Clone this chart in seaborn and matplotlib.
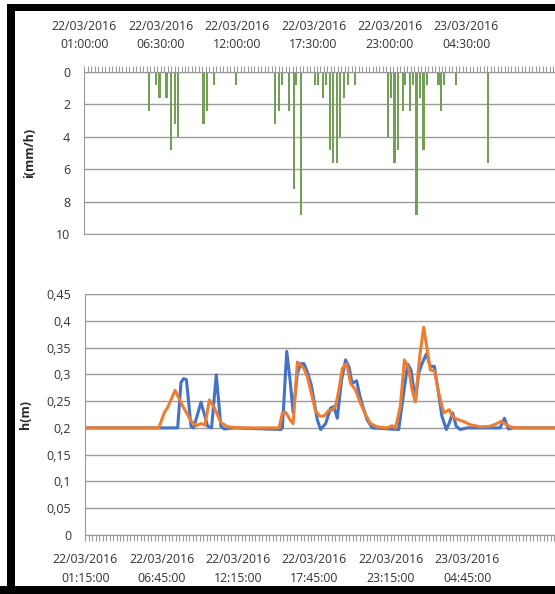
import numpy as np
import pandas as pd
import seaborn as sns
import matplotlib.pyplot as plt
from matplotlib.patches import Rectangle
from matplotlib.ticker import MultipleLocator

sns.set_style('white')
plt.rcParams['font.family'] = ['Open Sans', 'DejaVu Sans']

# rain intensity, i(mm/h), time as "day/month hh:mm"
rain_time = ['22/03 05:40', '22/03 06:10', '22/03 06:25', '22/03 06:55', '22/03 07:15',
             '22/03 07:30', '22/03 07:45', '22/03 09:35', '22/03 09:50', '22/03 10:20',
             '22/03 11:55', '22/03 14:45', '22/03 15:00', '22/03 15:15', '22/03 15:45',
             '22/03 16:05', '22/03 16:15', '22/03 16:35', '22/03 17:35', '22/03 17:50',
             '22/03 18:10', '22/03 18:25', '22/03 18:40', '22/03 18:55', '22/03 19:10',
             '22/03 19:25', '22/03 19:40', '22/03 20:00', '22/03 20:30', '22/03 22:50',
             '22/03 23:05', '22/03 23:20', '22/03 23:35', '22/03 23:55', '23/03 00:05',
             '23/03 00:25', '23/03 00:40', '23/03 00:55', '23/03 01:10', '23/03 01:25',
             '23/03 01:40', '23/03 02:30', '23/03 02:40', '23/03 02:55', '23/03 03:45',
             '23/03 06:05']
rain_int = [2.4, 0.8, 1.6, 1.6, 4.8, 3.2, 4.0, 3.2, 2.4, 0.8,
            0.8, 3.2, 2.4, 0.8, 2.4, 7.2, 0.8, 8.8, 0.8, 0.8,
            1.6, 0.8, 4.8, 5.6, 5.6, 4.0, 1.6, 0.8, 0.8, 4.0,
            1.6, 5.6, 4.8, 2.4, 0.8, 2.4, 0.8, 8.8, 1.6, 4.8,
            0.8, 0.8, 2.4, 0.8, 0.8, 5.6]

# water level h(m), time in hours from 22/03/2016 00:00
blue_t = [1.23, 7.90, 8.14, 8.33, 8.53, 8.86, 9.05, 9.58, 10.06, 10.34, 10.68, 11.01, 11.25, 11.97,
          15.32, 15.44, 15.75, 15.99, 16.21, 16.52, 16.76, 16.99, 17.23, 17.52, 17.71, 17.95, 18.19,
          18.55, 18.91, 19.15, 19.39, 19.70, 19.99, 20.23, 20.46, 20.78, 21.02, 21.30, 21.54, 21.90,
          23.81, 24.17, 24.46, 24.70, 25.01, 25.25, 25.49, 25.80, 26.09, 26.38, 26.64, 26.92, 27.24,
          27.45, 27.69, 27.95, 28.24, 28.72, 31.11, 31.42, 31.71, 32.07, 35.06]
blue_h = [0.2, 0.2, 0.285, 0.292, 0.29, 0.203, 0.2, 0.248, 0.203, 0.2, 0.299, 0.203, 0.198, 0.2,
          0.197, 0.2, 0.343, 0.29, 0.229, 0.302, 0.32, 0.32, 0.305, 0.28, 0.252, 0.215, 0.197,
          0.208, 0.237, 0.24, 0.218, 0.29, 0.327, 0.314, 0.283, 0.288, 0.259, 0.234, 0.215, 0.2,
          0.197, 0.265, 0.319, 0.308, 0.249, 0.302, 0.32, 0.338, 0.315, 0.315, 0.271, 0.222, 0.197,
          0.209, 0.228, 0.203, 0.197, 0.2, 0.2, 0.218, 0.198, 0.2, 0.2]

orange_t = [1.23, 6.54, 6.95, 7.18, 7.71, 8.26, 8.86, 9.22, 9.58, 9.86, 10.18, 10.53, 11.01, 11.49,
            12.45, 15.20, 15.44, 15.68, 15.99, 16.21, 16.52, 16.76, 16.99, 17.23, 17.52, 17.83,
            18.14, 18.43, 18.79, 19.03, 19.27, 19.51, 19.75, 20.06, 20.35, 20.70, 21.06, 21.42,
            21.78, 22.26, 22.98, 23.34, 23.58, 23.93, 24.22, 24.53, 24.77, 25.01, 25.32, 25.61,
            25.85, 26.09, 26.38, 26.69, 27.05, 27.45, 27.71, 28.12, 28.48, 28.96, 29.68, 30.40,
            30.87, 31.16, 31.47, 31.83, 32.31, 35.06]
orange_h = [0.2, 0.2, 0.229, 0.238, 0.270, 0.241, 0.213, 0.204, 0.208, 0.205, 0.252, 0.238, 0.210, 0.202,
            0.2, 0.2, 0.228, 0.229, 0.215, 0.208, 0.323, 0.317, 0.311, 0.296, 0.265, 0.231,
            0.222, 0.222, 0.233, 0.233, 0.241, 0.271, 0.311, 0.32, 0.283, 0.271, 0.246, 0.225,
            0.208, 0.202, 0.2, 0.204, 0.2, 0.24, 0.327, 0.311, 0.271, 0.249, 0.333, 0.388,
            0.348, 0.308, 0.307, 0.265, 0.228, 0.234, 0.22, 0.215, 0.212, 0.206, 0.202, 0.203,
            0.208, 0.212, 0.208, 0.202, 0.2, 0.2]

top_ticks = [1.0, 6.5, 12.0, 17.5, 23.0, 28.5]
top_labels = ['22/03/2016\n01:00:00', '22/03/2016\n06:30:00', '22/03/2016\n12:00:00',
              '22/03/2016\n17:30:00', '22/03/2016\n23:00:00', '23/03/2016\n04:30:00']
bot_ticks = [1.25, 6.75, 12.25, 17.75, 23.25, 28.75]
bot_labels = ['22/03/2016\n01:15:00', '22/03/2016\n06:45:00', '22/03/2016\n12:15:00',
              '22/03/2016\n17:45:00', '22/03/2016\n23:15:00', '23/03/2016\n04:45:00']
h_ticks = [0, 0.05, 0.1, 0.15, 0.2, 0.25, 0.3, 0.35, 0.4, 0.45]
h_labels = ['0', '0,05', '0,1', '0,15', '0,2', '0,25', '0,3', '0,35', '0,4', '0,45']


def to_hours(s):
    day, hm = s.split(' ')
    d = int(day.split('/')[0]) - 22
    hh, mm = hm.split(':')
    return d * 24 + int(hh) + int(mm) / 60


rain = pd.DataFrame({'t': [to_hours(s) for s in rain_time], 'i': rain_int})

GRID = '#9a9a9a'
TXT = '#333333'
W, H = 555, 594
fig = plt.figure(figsize=(W / 100, H / 100), dpi=100)

# top panel: rainfall
ax1 = fig.add_axes([84 / W, 1 - 234 / H, (W - 84) / W, 162 / H])
sns.barplot(data=rain, x='t', y='i', native_scale=True, width=0.9, color='#70AD47',
            errorbar=None, linewidth=0, ax=ax1)
ax1.set_xlim(0.98, 1 + (555 - 83) / 13.93)
ax1.set_ylim(10, 0)
ax1.set_yticks([0, 2, 4, 6, 8, 10])
ax1.yaxis.grid(True, color=GRID, lw=1)
ax1.xaxis.tick_top()
ax1.set_xticks(top_ticks)
ax1.set_xticklabels(top_labels)
ax1.xaxis.set_minor_locator(MultipleLocator(0.25))
ax1.tick_params(axis='x', which='both', direction='out', length=4, color=GRID, width=0.8,
                top=True, bottom=False, labelsize=8.8, labelcolor=TXT, pad=11)
ax1.tick_params(axis='y', length=0, labelsize=9, labelcolor=TXT, pad=10)
ax1.set_xlabel('')
ax1.set_ylabel('i(mm/h)', fontsize=9, fontweight='bold', labelpad=14)
for s in ['top', 'left', 'bottom']:
    ax1.spines[s].set_color(GRID)
ax1.spines['right'].set_visible(False)

# bottom panel: water level
ax2 = fig.add_axes([85 / W, 1 - 535 / H, (W - 85) / W, 241 / H])
sns.lineplot(x=blue_t, y=blue_h, color='#4472C4', lw=2.2, ax=ax2)
sns.lineplot(x=orange_t, y=orange_h, color='#ED7D31', lw=2.2, ax=ax2)
ax2.set_xlim(1.23, 1.25 + (555 - 84) / 13.93)
ax2.set_ylim(0, 0.45)
ax2.set_yticks(h_ticks)
ax2.set_yticklabels(h_labels)
ax2.yaxis.grid(True, color=GRID, lw=1)
ax2.set_xticks(bot_ticks)
ax2.set_xticklabels(bot_labels)
ax2.xaxis.set_minor_locator(MultipleLocator(0.25))
ax2.tick_params(axis='x', which='both', direction='out', length=4, color=GRID, width=0.8,
                bottom=True, labelsize=8.8, labelcolor=TXT, pad=9)
ax2.tick_params(axis='y', length=0, labelsize=9, labelcolor=TXT, pad=10)
ax2.set_ylabel('h(m)', fontsize=9, fontweight='bold', labelpad=10)
for s in ['top', 'left', 'bottom']:
    ax2.spines[s].set_color(GRID)
ax2.spines['right'].set_visible(False)

for ax in (ax1, ax2):
    for lbl in ax.get_xticklabels():
        lbl.set_linespacing(1.55)

# black frame of the screenshot
for (x0, y0, w, h) in [(7, 4, W - 7, 7), (7, 4, 8, H - 4), (0, 586, W, 8)]:
    fig.add_artist(Rectangle((x0 / W, 1 - (y0 + h) / H), w / W, h / H,
                             transform=fig.transFigure, color='black', lw=0))

fig.savefig('out.png', dpi=100)
